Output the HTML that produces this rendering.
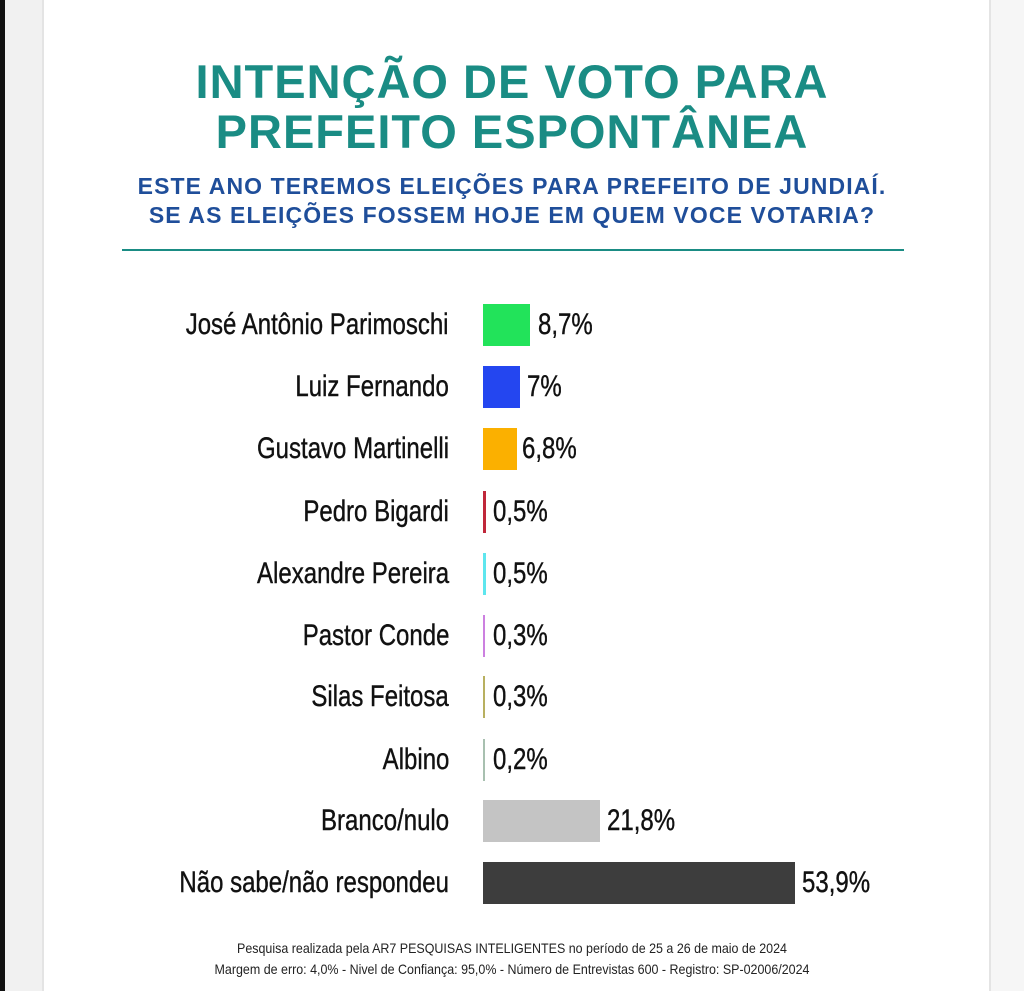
<!DOCTYPE html>
<html><head><meta charset="utf-8"><style>
body{margin:0;width:1024px;height:991px;background:#fff;position:relative;overflow:hidden;font-family:"Liberation Sans",sans-serif}
.a{position:absolute}
.t{left:0;width:1024px;text-align:center;color:#1a8c84;font-weight:bold;font-size:47px;letter-spacing:1px}
.s{left:0;width:1024px;text-align:center;color:#1f4e9a;font-weight:bold;font-size:23px;letter-spacing:1.1px}
.l{right:575px;font-size:30px;color:#111;transform:scaleX(0.8);transform-origin:right center;white-space:nowrap;height:42px;line-height:42px;-webkit-text-stroke:0.4px #111}
.v{font-size:30px;color:#111;transform:scaleX(0.8);transform-origin:left center;white-space:nowrap;height:42px;line-height:42px;-webkit-text-stroke:0.4px #111}
.b{left:483px;height:42px}
.f{left:0;width:1024px;text-align:center;font-size:14px;color:#222;transform:scaleX(0.89);white-space:nowrap}
</style></head><body>
<div class="a" style="left:0;top:0;width:5px;height:991px;background:#111"></div>
<div class="a" style="left:5px;top:0;width:37px;height:991px;background:#f1f1f1"></div>
<div class="a" style="left:42px;top:0;width:2px;height:991px;background:#e4e4e4"></div>
<div class="a" style="left:989px;top:0;width:2px;height:991px;background:#e4e4e4"></div>
<div class="a" style="left:991px;top:0;width:33px;height:991px;background:#f6f6f6"></div>
<div class="a t" style="top:54px">INTENÇÃO DE VOTO PARA</div>
<div class="a t" style="top:104px">PREFEITO ESPONTÂNEA</div>
<div class="a s" style="top:173px">ESTE ANO TEREMOS ELEIÇÕES PARA PREFEITO DE JUNDIAÍ.</div>
<div class="a s" style="top:202px">SE AS ELEIÇÕES FOSSEM HOJE EM QUEM VOCE VOTARIA?</div>
<div class="a" style="left:122px;top:249px;width:782px;height:2px;background:#1a8c84"></div>

<div class="a l" style="top:304px">José Antônio Parimoschi</div><div class="a b" style="top:304px;width:47px;background:#22e35a"></div><div class="a v" style="left:538px;top:304px">8,7%</div>
<div class="a l" style="top:366px">Luiz Fernando</div><div class="a b" style="top:366px;width:37px;background:#2446f0"></div><div class="a v" style="left:527px;top:366px">7%</div>
<div class="a l" style="top:428px">Gustavo Martinelli</div><div class="a b" style="top:428px;width:34px;background:#fbb000"></div><div class="a v" style="left:522px;top:428px">6,8%</div>
<div class="a l" style="top:491px">Pedro Bigardi</div><div class="a b" style="top:491px;width:3px;background:#c0273a"></div><div class="a v" style="left:493px;top:491px">0,5%</div>
<div class="a l" style="top:553px">Alexandre Pereira</div><div class="a b" style="top:553px;width:3px;background:#5ee6ee"></div><div class="a v" style="left:493px;top:553px">0,5%</div>
<div class="a l" style="top:615px">Pastor Conde</div><div class="a b" style="top:615px;width:2px;background:#cc80e0"></div><div class="a v" style="left:493px;top:615px">0,3%</div>
<div class="a l" style="top:676px">Silas Feitosa</div><div class="a b" style="top:676px;width:2px;background:#b8b060"></div><div class="a v" style="left:493px;top:676px">0,3%</div>
<div class="a l" style="top:739px">Albino</div><div class="a b" style="top:739px;width:2px;background:#a8c0b0"></div><div class="a v" style="left:493px;top:739px">0,2%</div>
<div class="a l" style="top:800px">Branco/nulo</div><div class="a b" style="top:800px;width:117px;background:#c4c4c4"></div><div class="a v" style="left:607px;top:800px">21,8%</div>
<div class="a l" style="top:862px">Não sabe/não respondeu</div><div class="a b" style="top:862px;width:312px;background:#3d3d3d"></div><div class="a v" style="left:802px;top:862px">53,9%</div>

<div class="a f" style="top:940px">Pesquisa realizada pela AR7 PESQUISAS INTELIGENTES no período de 25 a 26 de maio de 2024</div>
<div class="a f" style="top:961px">Margem de erro: 4,0% - Nivel de Confiança: 95,0% - Número de Entrevistas 600 - Registro: SP-02006/2024</div>
</body></html>
